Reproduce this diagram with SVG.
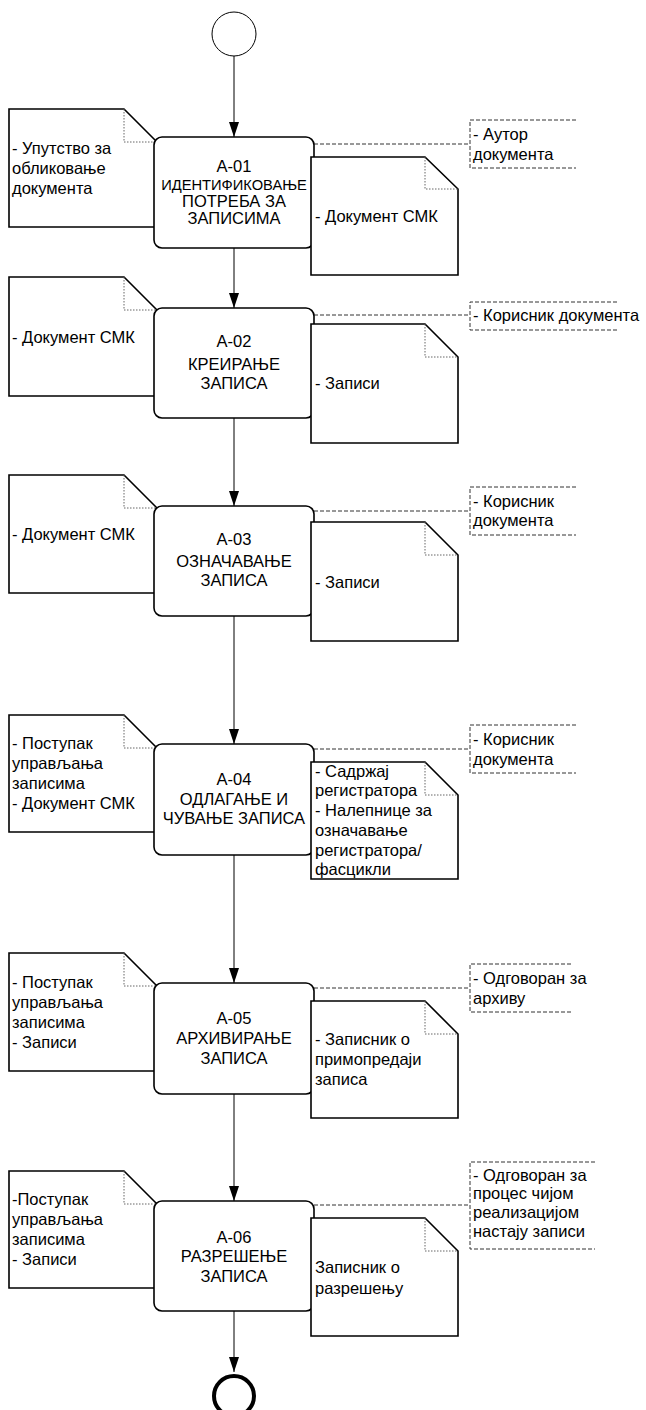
<svg xmlns="http://www.w3.org/2000/svg" width="646" height="1410" viewBox="0 0 646 1410">
<defs>
<style>
.doc{fill:#fff;stroke:#000;stroke-width:1.6}
.fold{fill:none;stroke:#666;stroke-width:1;stroke-dasharray:1.5 1.5}
.task{fill:#fff;stroke:#000;stroke-width:1.6}
.ann{fill:none;stroke:#333;stroke-width:1;stroke-dasharray:4 2}
.flow{fill:none;stroke:#000;stroke-width:1}
text{font-family:"Liberation Sans",Arial,sans-serif;font-size:16.5px;fill:#000}
.c{text-anchor:middle}
</style>
<marker id="arr" markerWidth="15" markerHeight="10" refX="15" refY="5" orient="auto" markerUnits="userSpaceOnUse" viewBox="0 0 15 10">
<path d="M0,0 L15,5 L0,10 Z" fill="#000"/>
</marker>
</defs>
<rect width="646" height="1410" fill="#fff"/>

<g id="start"><circle cx="234" cy="34" r="22" fill="#fff" stroke="#000" stroke-width="1"/></g>

<g id="connectors">
<line class="flow" x1="234" y1="56" x2="234" y2="137" marker-end="url(#arr)"/>
<line class="flow" x1="234" y1="248" x2="234" y2="308" marker-end="url(#arr)"/>
<line class="flow" x1="234" y1="418" x2="234" y2="506" marker-end="url(#arr)"/>
<line class="flow" x1="234" y1="616" x2="234" y2="744" marker-end="url(#arr)"/>
<line class="flow" x1="234" y1="855" x2="234" y2="983" marker-end="url(#arr)"/>
<line class="flow" x1="234" y1="1094" x2="234" y2="1201" marker-end="url(#arr)"/>
<line class="flow" x1="234" y1="1311" x2="234" y2="1372" marker-end="url(#arr)"/>
<path class="ann" d="M314,144 H470"/>
<path class="ann" d="M314,315 H470"/>
<path class="ann" d="M314,511 H470"/>
<path class="ann" d="M314,749 H470"/>
<path class="ann" d="M314,988 H470"/>
<path class="ann" d="M314,1205 H470"/>
</g>

<!-- A-01 -->
<g id="a01-in">
<path class="doc" d="M9,109 H124 L157,142 V227 H9 Z"/><path class="fold" d="M124,109 V142 H157"/>
<text x="12" y="154">- Упутство за</text><text x="12" y="174">обликовање</text><text x="12" y="194">документа</text>
</g>
<g id="a01">
<rect class="task" x="154" y="137" width="160" height="111" rx="8"/>
<text class="c" x="234" y="172">А-01</text>
<text class="c" x="234" y="190" style="font-size:14.7px">ИДЕНТИФИКОВАЊЕ</text>
<text class="c" x="234" y="207">ПОТРЕБА ЗА</text>
<text class="c" x="234" y="224">ЗАПИСИМА</text>
</g>
<g id="a01-out">
<path class="doc" d="M311,157 H425 L458,189 V275 H311 Z"/><path class="fold" d="M425,157 V189 H458"/>
<text x="315" y="222">- Документ СМК</text>
</g>
<g id="a01-role">
<path class="ann" d="M576,120 H470 V168 H576"/>
<text x="473" y="140">- Аутор</text><text x="473" y="160">документа</text>
</g>

<!-- A-02 -->
<g id="a02-in">
<path class="doc" d="M9,277 H124 L157,310 V396 H9 Z"/><path class="fold" d="M124,277 V310 H157"/>
<text x="12" y="343">- Документ СМК</text>
</g>
<g id="a02">
<rect class="task" x="154" y="308" width="160" height="110" rx="8"/>
<text class="c" x="234" y="347">А-02</text>
<text class="c" x="234" y="370">КРЕИРАЊЕ</text>
<text class="c" x="234" y="389">ЗАПИСА</text>
</g>
<g id="a02-out">
<path class="doc" d="M311,324 H425 L458,357 V443 H311 Z"/><path class="fold" d="M425,324 V357 H458"/>
<text x="315" y="389">- Записи</text>
</g>
<g id="a02-role">
<path class="ann" d="M617,302 H470 V330 H617"/>
<text x="473" y="321">- Корисник документа</text>
</g>

<!-- A-03 -->
<g id="a03-in">
<path class="doc" d="M9,475 H124 L157,508 V593 H9 Z"/><path class="fold" d="M124,475 V508 H157"/>
<text x="12" y="540">- Документ СМК</text>
</g>
<g id="a03">
<rect class="task" x="154" y="506" width="160" height="110" rx="8"/>
<text class="c" x="234" y="545">А-03</text>
<text class="c" x="234" y="567">ОЗНАЧАВАЊЕ</text>
<text class="c" x="234" y="586">ЗАПИСА</text>
</g>
<g id="a03-out">
<path class="doc" d="M311,522 H425 L458,555 V641 H311 Z"/><path class="fold" d="M425,522 V555 H458"/>
<text x="315" y="588">- Записи</text>
</g>
<g id="a03-role">
<path class="ann" d="M576,487 H470 V535 H576"/>
<text x="473" y="507">- Корисник</text><text x="473" y="526">документа</text>
</g>

<!-- A-04 -->
<g id="a04-in">
<path class="doc" d="M9,715 H124 L157,748 V832 H9 Z"/><path class="fold" d="M124,715 V748 H157"/>
<text x="12" y="749">- Поступак</text><text x="12" y="769">управљања</text><text x="12" y="789">записима</text><text x="12" y="809">- Документ СМК</text>
</g>
<g id="a04">
<rect class="task" x="154" y="744" width="160" height="111" rx="8"/>
<text class="c" x="234" y="785">А-04</text>
<text class="c" x="234" y="805">ОДЛАГАЊЕ И</text>
<text class="c" x="234" y="824">ЧУВАЊЕ ЗАПИСА</text>
</g>
<g id="a04-out">
<path class="doc" d="M311,762 H425 L458,795 V879 H311 Z"/><path class="fold" d="M425,762 V795 H458"/>
<text x="315" y="777">- Садржај</text><text x="315" y="796">регистратора</text><text x="315" y="816">- Налепнице за</text><text x="315" y="836">означавање</text><text x="315" y="856">регистратора/</text><text x="315" y="875">фасцикли</text>
</g>
<g id="a04-role">
<path class="ann" d="M576,725 H470 V773 H576"/>
<text x="473" y="745">- Корисник</text><text x="473" y="765">документа</text>
</g>

<!-- A-05 -->
<g id="a05-in">
<path class="doc" d="M9,953 H124 L157,986 V1071 H9 Z"/><path class="fold" d="M124,953 V986 H157"/>
<text x="12" y="988">- Поступак</text><text x="12" y="1008">управљања</text><text x="12" y="1028">записима</text><text x="12" y="1048">- Записи</text>
</g>
<g id="a05">
<rect class="task" x="154" y="983" width="160" height="111" rx="8"/>
<text class="c" x="234" y="1024">А-05</text>
<text class="c" x="234" y="1044">АРХИВИРАЊЕ</text>
<text class="c" x="234" y="1064">ЗАПИСА</text>
</g>
<g id="a05-out">
<path class="doc" d="M311,1001 H425 L458,1034 V1118 H311 Z"/><path class="fold" d="M425,1001 V1034 H458"/>
<text x="315" y="1045">- Записник о</text><text x="315" y="1065">примопредаји</text><text x="315" y="1085">записа</text>
</g>
<g id="a05-role">
<path class="ann" d="M571,964 H470 V1012 H571"/>
<text x="473" y="984">- Одговоран за</text><text x="473" y="1004">архиву</text>
</g>

<!-- A-06 -->
<g id="a06-in">
<path class="doc" d="M9,1171 H124 L157,1204 V1288 H9 Z"/><path class="fold" d="M124,1171 V1204 H157"/>
<text x="12" y="1205">-Поступак</text><text x="12" y="1225">управљања</text><text x="12" y="1245">записима</text><text x="12" y="1265">- Записи</text>
</g>
<g id="a06">
<rect class="task" x="154" y="1201" width="160" height="110" rx="8"/>
<text class="c" x="234" y="1243">А-06</text>
<text class="c" x="234" y="1262">РАЗРЕШЕЊЕ</text>
<text class="c" x="234" y="1282">ЗАПИСА</text>
</g>
<g id="a06-out">
<path class="doc" d="M311,1218 H425 L458,1251 V1336 H311 Z"/><path class="fold" d="M425,1218 V1251 H458"/>
<text x="315" y="1273">Записник о</text><text x="315" y="1294">разрешењу</text>
</g>
<g id="a06-role">
<path class="ann" d="M595,1162 H470 V1249 H595"/>
<text x="473" y="1181">- Одговоран за</text><text x="473" y="1199">процес чијом</text><text x="473" y="1218">реализацијом</text><text x="473" y="1237">настају записи</text>
</g>

<g id="end"><circle cx="234" cy="1396" r="20" fill="#fff" stroke="#000" stroke-width="4"/></g>
</svg>
